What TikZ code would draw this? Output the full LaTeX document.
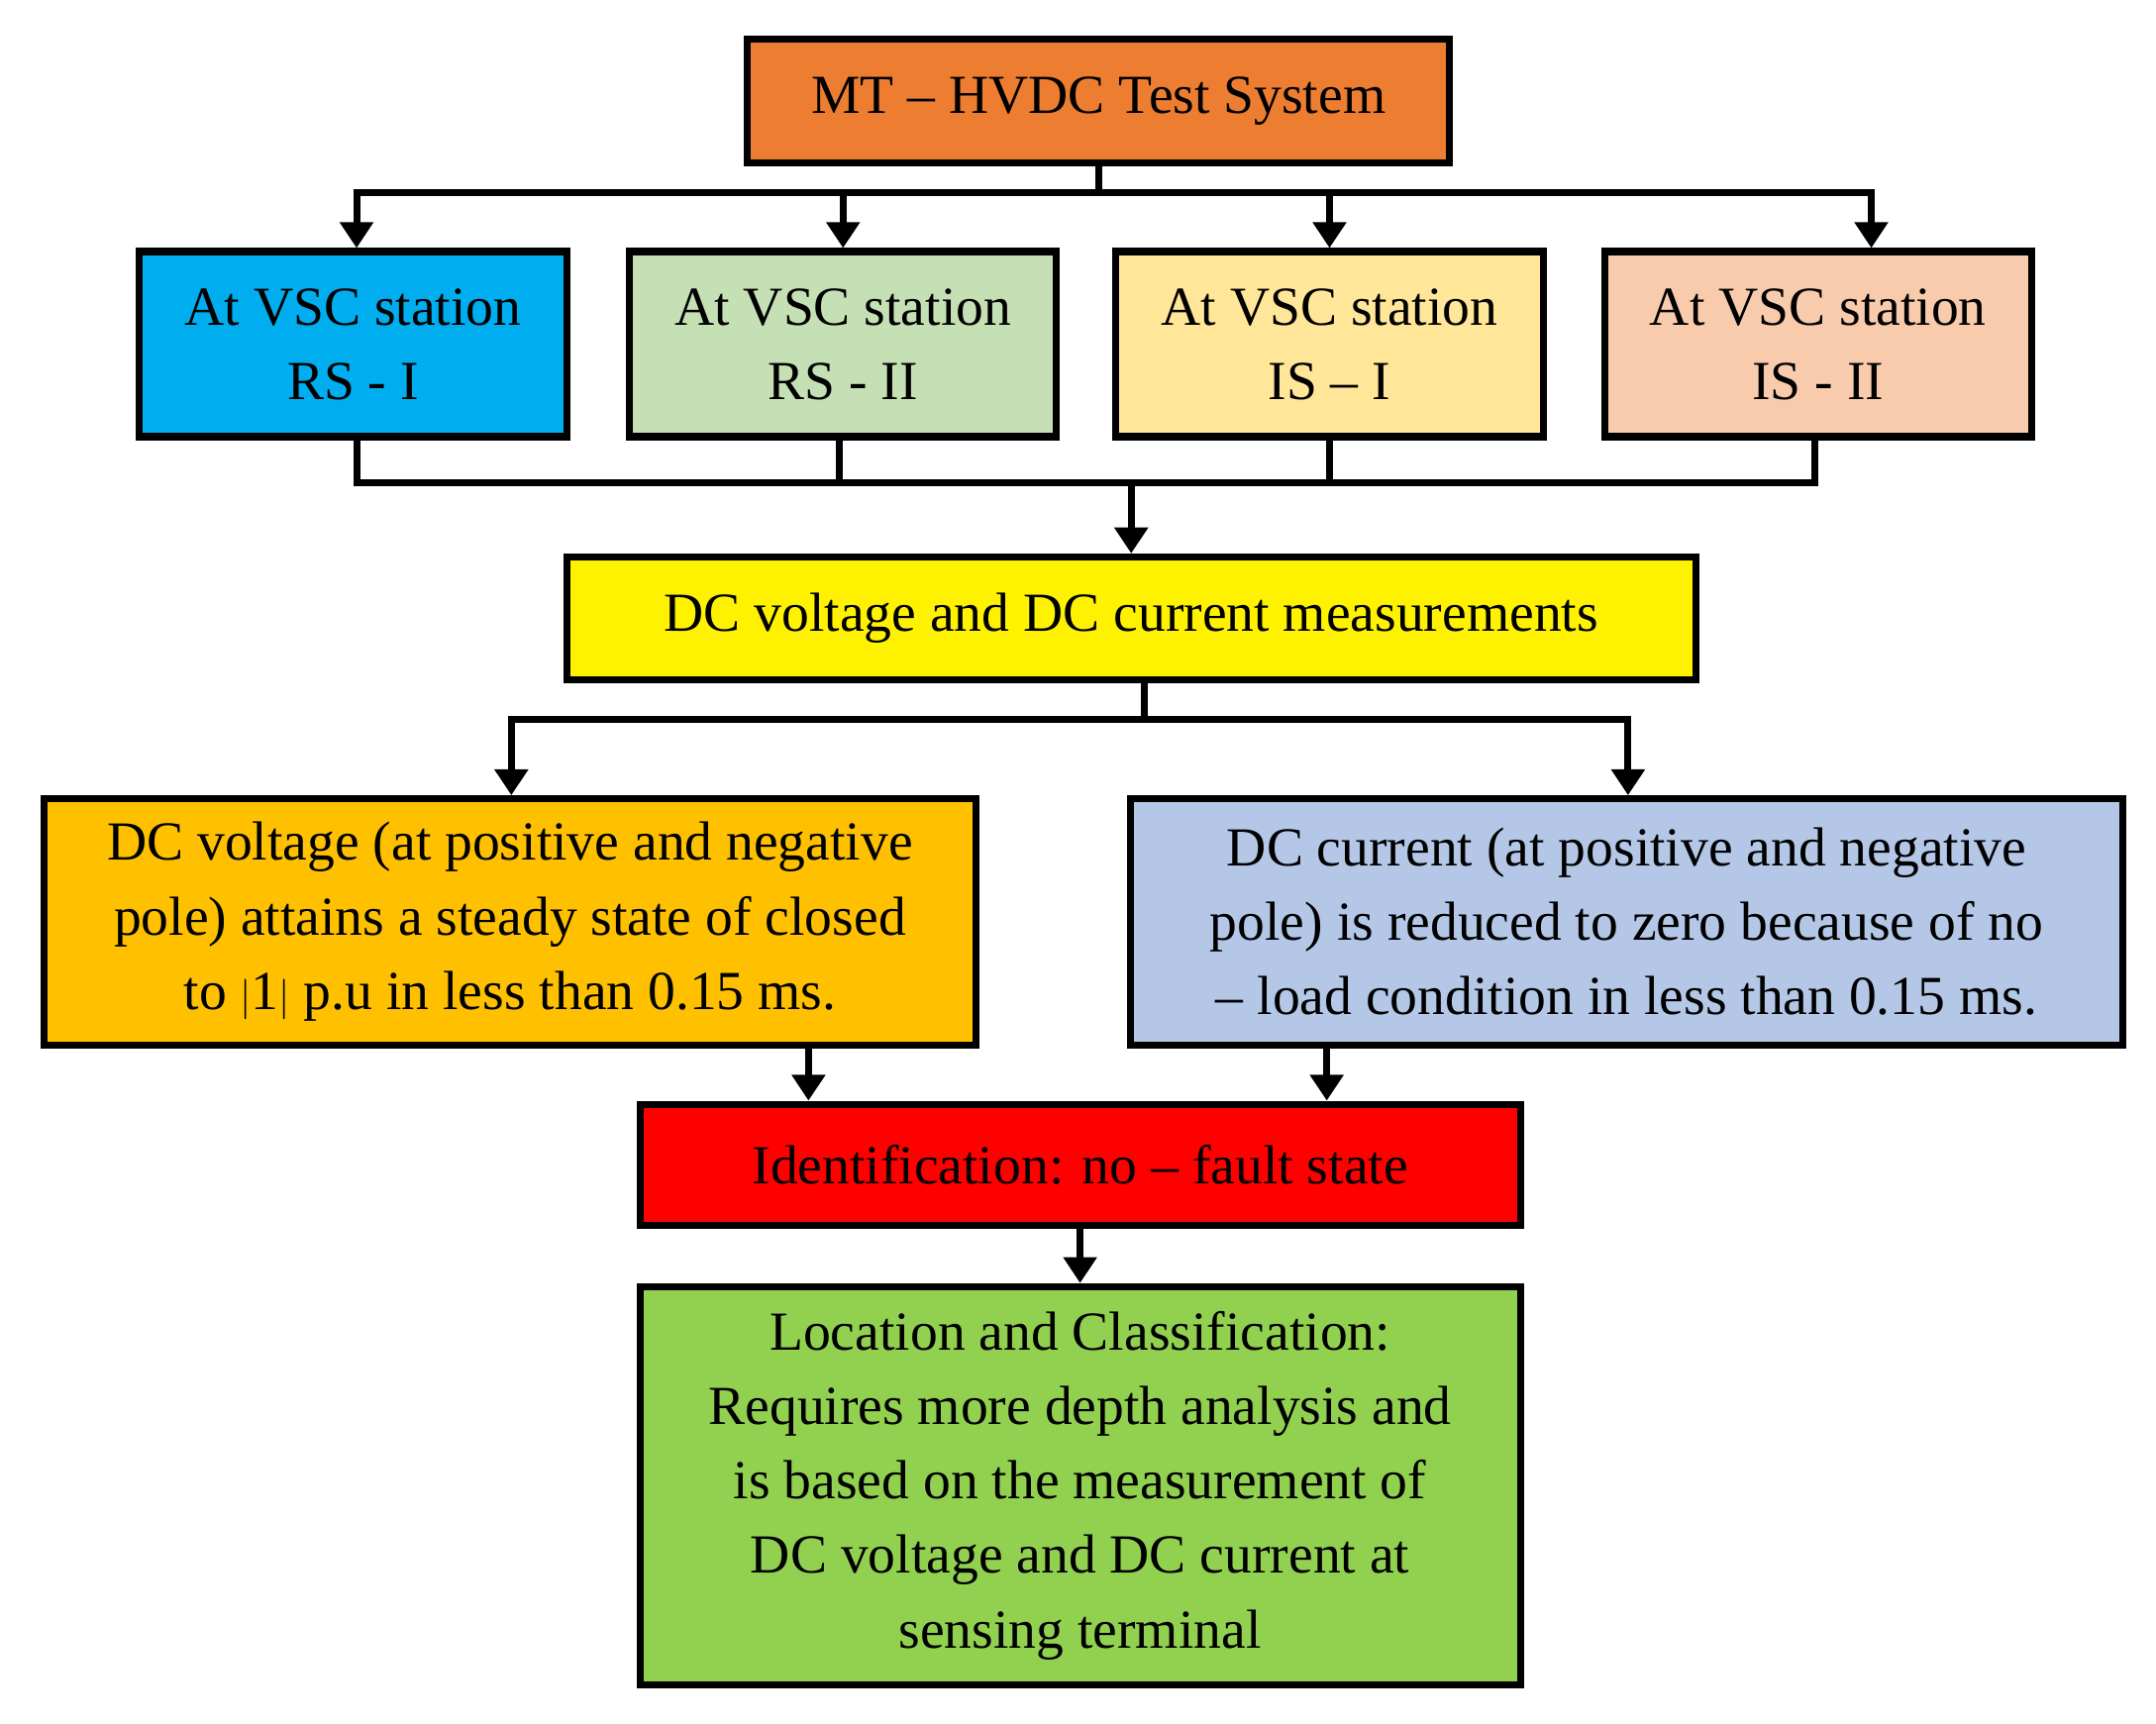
\documentclass[tikz,border=0pt]{standalone}
\usepackage{fontspec}
\setmainfont{Liberation Serif}
\usetikzlibrary{arrows.meta}
\begin{document}
\begin{tikzpicture}[x=0.03cm,y=-0.03cm,
  box/.style={draw=black,line width=4.3pt,align=center,inner sep=0pt,
    font=\fontsize{34}{46}\selectfont},
  arr/.style={line width=4.3pt,-{Triangle[length=16pt,width=20pt]}},
  ln/.style={line width=4.3pt}]
\useasboundingbox (0,0) rectangle (1560,1247);
\definecolor{cor}{HTML}{ED7D31}
\definecolor{cgr}{HTML}{C5E0B4}
\definecolor{cye}{HTML}{FFE699}
\definecolor{cpk}{HTML}{F8CBAD}
\definecolor{cam}{HTML}{FFC000}
\definecolor{cbl}{HTML}{B4C7E7}
\definecolor{cgn}{HTML}{92D050}
\node[box,fill=cor,minimum width=15.24cm,minimum height=2.7cm] (top) at (795,73) {MT -- HVDC Test System};
\node[box,fill=cyan,minimum width=9.27cm,minimum height=4.02cm] (s1) at (255.5,249) {At VSC station\\RS - I};
\node[box,fill=cgr,minimum width=9.27cm,minimum height=4.02cm] (s2) at (610,249) {At VSC station\\RS - II};
\node[box,fill=cye,minimum width=9.27cm,minimum height=4.02cm] (s3) at (962,249) {At VSC station\\IS -- I};
\node[box,fill=cpk,minimum width=9.27cm,minimum height=4.02cm] (s4) at (1315.5,249) {At VSC station\\IS - II};
\node[box,fill=yellow,minimum width=24.51cm,minimum height=2.67cm] (meas) at (818.5,447.5) {DC voltage and DC current measurements};
\node[box,fill=cam,minimum width=20.22cm,minimum height=5.34cm] (left) at (369,667) {DC voltage (at positive and negative\\pole) attains a steady state of closed\\to $|$1$|$ p.u in less than 0.15 ms.};
\node[box,fill=cbl,minimum width=21.54cm,minimum height=5.34cm] (right) at (1177,667) {DC current (at positive and negative\\pole) is reduced to zero because of no\\-- load condition in less than 0.15 ms.};
\node[box,fill=red,minimum width=19.11cm,minimum height=2.64cm] (id) at (781.5,843) {Identification: no -- fault state};
\node[box,fill=cgn,minimum width=19.11cm,minimum height=8.64cm] (loc) at (781.5,1075) {Location and Classification:\\Requires more depth analysis and\\is based on the measurement of\\DC voltage and DC current at\\sensing terminal};
\draw[arr] (top.south) -- ++(0,19) -| ([xshift=0.075cm]s1.north);
\draw[arr] (top.south) -- ++(0,19) -| (s2.north);
\draw[arr] (top.south) -- ++(0,19) -| (s3.north);
\draw[arr] (top.south) -- ++(0,19) -| ([xshift=1.155cm]s4.north);
\draw[ln] ([xshift=0.075cm]s1.south) -- ++(0,31) -| ([xshift=-0.075cm]s4.south);
\draw[ln] ([xshift=-0.09cm]s2.south) -- ++(0,31);
\draw[ln] (s3.south) -- ++(0,31);
\draw[arr] (meas.north |- s1.south) ++(0,31) -- (meas.north);
\draw[arr] ([xshift=0.285cm]meas.south) -- ++(0,26) -| ([xshift=0.03cm]left.north);
\draw[arr] ([xshift=0.285cm]meas.south) -- ++(0,26) -| ([xshift=0.03cm]right.north);
\draw[arr] ([xshift=6.48cm]left.south) -- ([xshift=6.48cm]left.south |- id.north);
\draw[arr] ([xshift=-6.51cm]right.south) -- ([xshift=-6.51cm]right.south |- id.north);
\draw[arr] (id.south) -- (loc.north);
\end{tikzpicture}
\end{document}
